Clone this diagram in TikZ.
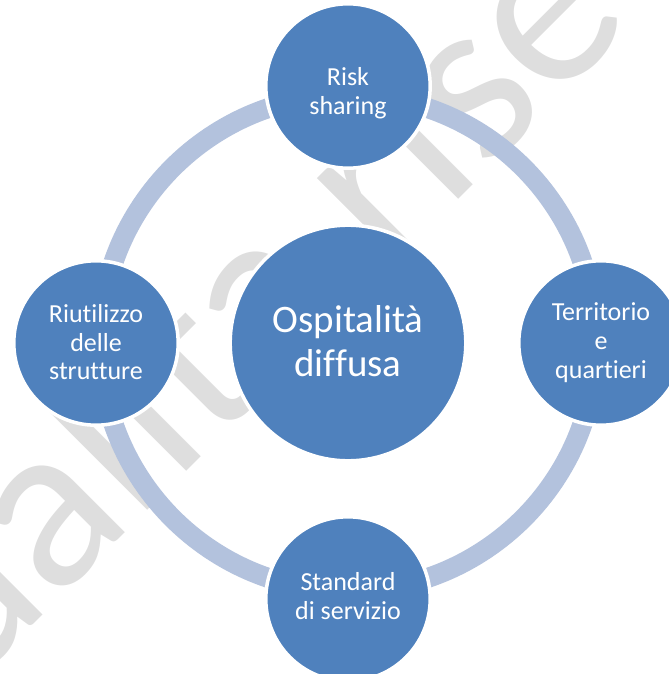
\documentclass[tikz,border=0pt]{standalone}
\usepackage{fontspec}
\setmainfont{Carlito}[Ligatures=NoCommon]

\definecolor{nodeblue}{RGB}{79,129,189}
\definecolor{ringblue}{RGB}{179,194,221}
\definecolor{markgray}{RGB}{222,222,222}

\begin{document}
\begin{tikzpicture}[
    core/.style={circle, fill=nodeblue, draw=white, line width=2.5pt, minimum size=5.89cm, inner sep=0pt, text=white, align=center, font=\fontsize{27.7}{31.3}\selectfont},
    theme/.style={circle, fill=nodeblue, draw=white, line width=2.5pt, minimum size=4.11cm, inner sep=0pt, text=white, align=center, font=\fontsize{18.5}{20.5}\selectfont},
    lastline/.style={text height=#1, text depth=0pt},
    ring/.style={draw=ringblue, line width=0.5cm},
    watermark/.style={text=markgray, rotate=45, anchor=base west, inner sep=0pt, font=\fontsize{170.7}{200}\selectfont}
]
\useasboundingbox (-8.7,-8.275) rectangle (8.025,8.575);
\clip (-8.7,-8.275) rectangle (8.025,8.575);

% Watermark
\node[watermark] (mark) at (-9.575,-8.75) {ualita rise};

% Centre
\node[core, lastline=48pt] (ospitalita) at (0,0) {Ospitalità\\diffusa};

% Ring
\draw[ring] (ospitalita.center) circle (6.2);

% Themes
\node[theme, lastline=40.5pt] (risk) at (0,6.425) {Risk\\sharing};
\node[theme, lastline=50.2pt] (territorio) at (6.325,0) {Territorio\\e\\quartieri};
\node[theme, lastline=29pt] (standard) at (0,-6.4) {Standard\\di servizio};
\node[theme, lastline=52.6pt] (riutilizzo) at (-6.3,0) {Riutilizzo\\delle\\strutture};

\end{tikzpicture}
\end{document}
